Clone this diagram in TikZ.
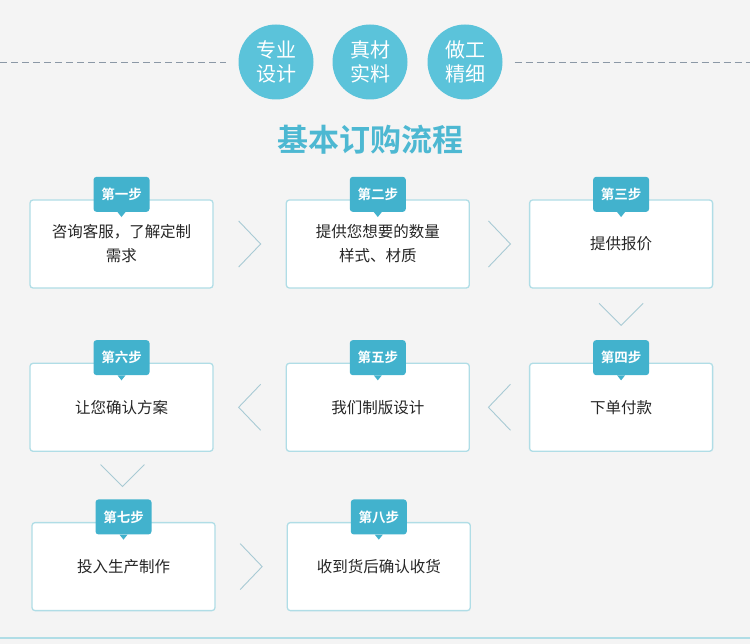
\documentclass[tikz,border=0pt]{standalone}
\usepackage{fontspec}
\setmainfont{Noto Sans CJK SC}[BoldFont={Noto Sans CJK SC Bold}]
\usetikzlibrary{positioning, calc}

\definecolor{bgcol}{HTML}{F4F4F4}
\definecolor{ballblue}{HTML}{5BC3DA}
\definecolor{tabblue}{HTML}{42B2CD}
\definecolor{edgeblue}{HTML}{B0DDE6}
\definecolor{titleblue}{HTML}{4DB8D2}
\definecolor{chevgray}{HTML}{A8CAD4}
\definecolor{dashgray}{HTML}{8B98A6}

\newcommand\chevright[1]{\draw[chev] ($(#1)+(-11,-23)$) -- ($(#1)+(11,0)$) -- ($(#1)+(-11,23)$);}
\newcommand\chevleft[1]{\draw[chev] ($(#1)+(11,-23)$) -- ($(#1)+(-11,0)$) -- ($(#1)+(11,23)$);}
\newcommand\chevdown[1]{\draw[chev] ($(#1)+(-22,-11)$) -- ($(#1)+(0,11)$) -- ($(#1)+(22,-11)$);}

\begin{document}
\begin{tikzpicture}[
    x=1pt, y=-1pt,
    stepbox/.style={rectangle, draw=edgeblue, line width=1.3pt, fill=white, rounded corners=3pt, minimum width=183pt, minimum height=88pt, align=center, font=\fontsize{15.5}{24}\selectfont, text=black!85},
    steptab/.style={rectangle, fill=tabblue, rounded corners=3pt, minimum width=56pt, minimum height=35pt, text=white, font=\bfseries\fontsize{13.5}{15}\selectfont},
    ball/.style={circle, fill=ballblue, minimum size=75pt, inner sep=0pt, text=white, align=center, font=\fontsize{20}{24}\selectfont},
    chev/.style={draw=chevgray, line width=0.9pt},
    dashline/.style={draw=dashgray, line width=0.9pt, dash pattern=on 7pt off 4pt}
]
    \useasboundingbox (0,0) rectangle (750,644);
    \fill[bgcol] (0,0) rectangle (750,644);

    % top badges
    \node[ball] (b1) at (276,62) {专业\\设计};
    \node[ball] (b2) at (370,62) {真材\\实料};
    \node[ball] (b3) at (465,62) {做工\\精细};
    \coordinate (dl) at (0,62);
    \coordinate (dr) at (750,62);
    \draw[dashline] (dl) -- ($(b1.west)+(-12,0)$);
    \draw[dashline] ($(b3.east)+(12,0)$) -- (dr);

    \node[font=\bfseries\fontsize{31}{31}\selectfont, text=titleblue] (title) at (370,140) {基本订购流程};

    % steps
    \node[stepbox] (s1) at (121.5,244) {咨询客服，了解定制\\需求};
    \node[stepbox, right=72pt of s1] (s2) {提供您想要的数量\\样式、材质};
    \node[stepbox, right=59pt of s2] (s3) {提供报价};
    \node[stepbox, below=74pt of s3] (s4) {下单付款};
    \node[stepbox, left=59pt of s4] (s5) {我们制版设计};
    \node[stepbox, left=72pt of s5] (s6) {让您确认方案};
    \node[stepbox, below=70pt of s6, xshift=2pt] (s7) {投入生产制作};
    \node[stepbox, right=71pt of s7] (s8) {收到货后确认收货};

    \foreach \i/\lbl in {1/第一步, 2/第二步, 3/第三步, 4/第四步, 5/第五步, 6/第六步, 7/第七步, 8/第八步} {
        \node[steptab] (t\i) at ($(s\i.north)+(0,-5)$) {\lbl};
        \fill[tabblue] ($(t\i.south)+(-4,0)$) -- ($(t\i.south)+(4,0)$) -- ($(t\i.south)+(0,5)$) -- cycle;
    }

    % chevrons between steps
    \coordinate (c12) at ($(s1.east)!0.5!(s2.west)$);
    \coordinate (c23) at ($(s2.east)!0.5!(s3.west)$);
    \coordinate (c34) at ($(s3.south)!0.5!(t4.north)$);
    \coordinate (c45) at ($(s5.east)!0.5!(s4.west)$);
    \coordinate (c56) at ($(s6.east)!0.5!(s5.west)$);
    \coordinate (c67) at ($(s6.south)!0.5!(t7.north)$);
    \coordinate (c78) at ($(s7.east)!0.5!(s8.west)$);
    \chevright{c12}
    \chevright{c23}
    \chevdown{c34}
    \chevleft{c45}
    \chevleft{c56}
    \chevdown{c67}
    \chevright{c78}

    \coordinate (fl) at (0,638);
    \coordinate (fr) at (750,638);
    \draw[edgeblue, line width=2pt] (fl) -- (fr);
\end{tikzpicture}
\end{document}
